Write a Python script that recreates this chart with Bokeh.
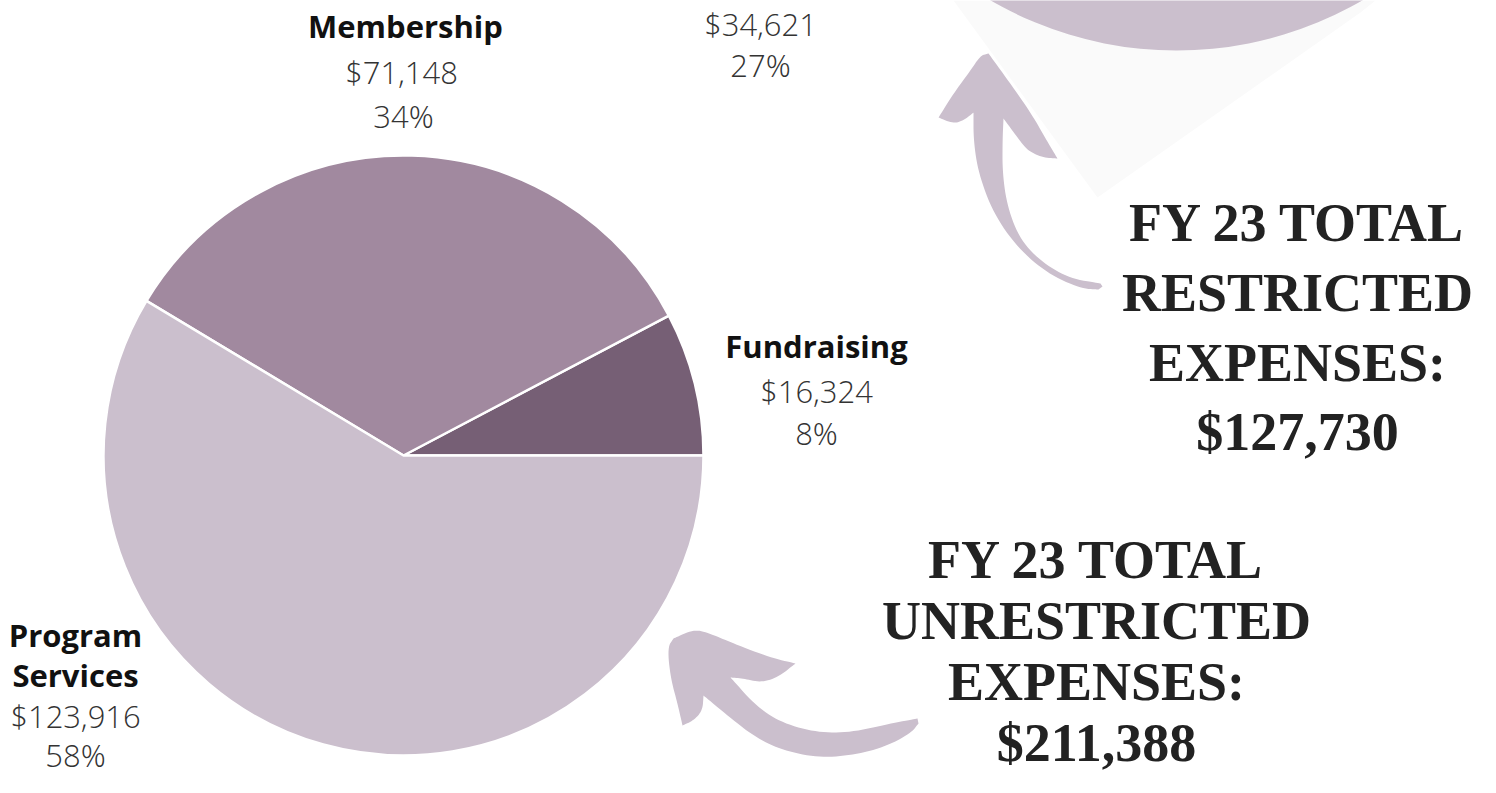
import math
from bokeh.plotting import figure
from bokeh.models import Range1d, ColumnDataSource
from bokeh.core.properties import value
from bokeh.embed import file_html
from bokeh.resources import INLINE

# ---------------- data ----------------
categories = ["Fundraising", "Membership", "Program Services"]
values = [16324, 71148, 123916]
percents = ["8%", "34%", "58%"]
colors = ["#765f75", "#a1899f", "#cbbfcd"]

restricted_visible_value = 34621
restricted_visible_percent = "27%"

unrestricted_total_label = "$211,388"
restricted_total_label = "$127,730"

# ---------------- figure ----------------
W, H = 1480, 777


def Y(py):
    """convert a picture row (from the top) to data y"""
    return H - py


p = figure(width=W, height=H, x_range=Range1d(0, W), y_range=Range1d(0, H),
           output_backend="svg", toolbar_location=None, min_border=0)
p.axis.visible = False
p.grid.visible = False
p.outline_line_color = None
p.background_fill_color = "white"
p.border_fill_color = "white"


def chaikin(pts, n=3):
    for _ in range(n):
        out = [pts[0]]
        for (x0, y0), (x1, y1) in zip(pts[:-1], pts[1:]):
            out.append((0.75 * x0 + 0.25 * x1, 0.75 * y0 + 0.25 * y1))
            out.append((0.25 * x0 + 0.75 * x1, 0.25 * y0 + 0.75 * y1))
        out.append(pts[-1])
        pts = out
    return pts


def outline(segments):
    pts = []
    for seg in segments:
        pts.extend(chaikin(seg) if len(seg) > 2 else seg)
    return [a for a, b in pts], [Y(b) for a, b in pts]


# faint shadow behind the restricted pie
p.patch([953, 1097, 1360, 1375], [Y(0), Y(197), Y(12), Y(0)],
        fill_color="#fafafa", line_color=None)

# restricted pie (mostly cropped off the top)
p.circle(x=[1176], y=[Y(-320)], radius=370, fill_color="#cbbfcd", line_color=None)

# unrestricted pie
total = sum(values)
starts, ends = [], []
acc = 0.0
for v in values:
    starts.append(2 * math.pi * acc / total)
    acc += v
    ends.append(2 * math.pi * acc / total)
src = ColumnDataSource(dict(cat=categories, val=values, start=starts, end=ends, color=colors))
p.wedge(x=403, y=Y(455), radius=300, start_angle="start", end_angle="end",
        fill_color="color", line_color="white", line_width=2.5, source=src)

# arrows (decoration)
ARROW = "#cbbfcd"
up_x, up_y = outline([
    [(988, 53), (1012, 86), (1032, 115), (1045, 138), (1057, 158)],
    [(1057, 158), (1042, 157), (1027, 150), (1017, 137), (1003, 118)],
    [(1003, 118), (1002, 140), (1002, 173), (1007, 207), (1020, 240), (1043, 263), (1070, 278), (1100, 283)],
    [(1102, 286)],
    [(1098, 289), (1080, 288), (1047, 273), (1017, 247), (993, 213), (978, 173), (973, 140), (973, 112)],
    [(973, 112), (963, 120), (953, 123), (938, 117)],
    [(938, 117), (953, 93), (970, 70), (980, 55), (988, 53)],
])
p.patch(up_x, up_y, fill_color=ARROW, line_color=None)

low_x, low_y = outline([
    [(673, 638), (693, 629), (707, 632), (733, 643), (770, 657), (795, 663)],
    [(795, 663), (777, 677), (760, 682), (743, 678), (730, 677)],
    [(730, 677), (757, 707), (783, 723), (817, 732), (850, 732), (890, 723), (917, 718)],
    [(918, 723), (910, 733), (883, 747), (850, 755), (817, 757), (783, 750), (757, 738), (733, 720), (703, 695)],
    [(703, 695), (702, 710), (693, 720), (682, 725)],
    [(682, 725), (677, 703), (670, 677), (667, 647), (673, 638)],
])
p.patch(low_x, low_y, fill_color=ARROW, line_color=None)

# ---------------- labels ----------------
SANS = value("Open Sans")
SANS_LIGHT = value("Open Sans Light")
SERIF = value("Liberation Serif")


def label(x, py, txt, bold=False, size=31, font=SANS, color="#333333"):
    # py is the wanted baseline row; the svg text sits ~0.38em lower than its anchor
    anchor = py - 0.38 * size
    p.text(x=[x], y=[Y(anchor)], text=[txt], text_font=font, text_font_size=f"{size}px",
           text_font_style="bold" if bold else "normal", text_color=color,
           text_align="center", text_baseline="alphabetic")


fmt = lambda v: "${:,}".format(v)

# Fundraising
label(816, 357, categories[0], bold=True, color="#111111")
label(816, 402, fmt(values[0]), font=SANS_LIGHT)
label(816, 444, percents[0], font=SANS_LIGHT)

# Membership
label(405, 37, categories[1], bold=True, color="#111111")
label(401, 83, fmt(values[1]), font=SANS_LIGHT)
label(403, 127, percents[1], font=SANS_LIGHT)

# Program Services
label(75, 646, "Program", bold=True, color="#111111")
label(75, 686, "Services", bold=True, color="#111111")
label(75, 727, fmt(values[2]), font=SANS_LIGHT)
label(75, 766, percents[2], font=SANS_LIGHT)

# restricted pie visible label
label(760, 35, fmt(restricted_visible_value), font=SANS_LIGHT)
label(760, 76, restricted_visible_percent, font=SANS_LIGHT)

# totals
for py, txt in [(243, "FY 23 TOTAL"), (313, "RESTRICTED"), (383, "EXPENSES:"), (452, restricted_total_label)]:
    label(1297, py, txt, bold=True, size=54, font=SERIF, color="#222222")

for py, txt in [(580, "FY 23 TOTAL"), (641, "UNRESTRICTED"), (702, "EXPENSES:"), (763, unrestricted_total_label)]:
    label(1096, py, txt, bold=True, size=54, font=SERIF, color="#222222")

open("out.html", "w").write(file_html(p, INLINE))
